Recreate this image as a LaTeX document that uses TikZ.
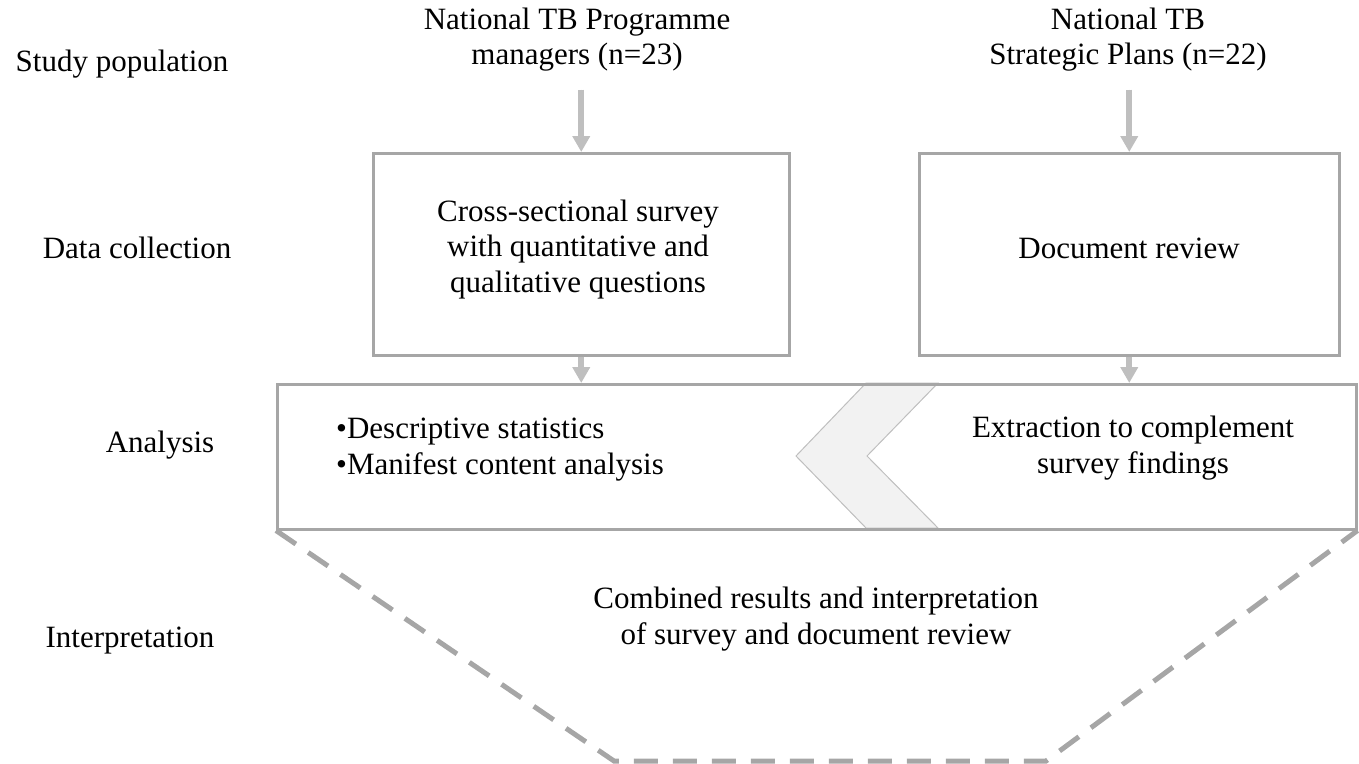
\documentclass[tikz,border=0pt]{standalone}
\usepackage{fontspec}
\setmainfont{Liberation Serif}
\usetikzlibrary{arrows.meta}
\definecolor{boxgray}{HTML}{A6A6A6}
\definecolor{arrgray}{HTML}{BFBFBF}
\definecolor{chevfill}{HTML}{F2F2F2}
\begin{document}
\begin{tikzpicture}[x=1pt,y=-1pt,
  txt/.style={font=\fontsize{31}{35.5}\selectfont, inner sep=0pt, align=center},
  box/.style={draw=boxgray, line width=2.5pt, inner sep=0pt, anchor=north west},
  arr/.style={draw=arrgray, line width=6pt, -{Triangle[width=17pt,length=16pt]}, fill=arrgray},
  dashline/.style={draw=boxgray, line width=5pt, dash pattern=on 24pt off 15pt}]
\useasboundingbox (0,0) rectangle (1359,763);
% left labels
\node[txt, anchor=base] (l1) at (122,71) {Study population};
\node[txt, anchor=base] (l2) at (137,258) {Data collection};
\node[txt, anchor=base] (l3) at (160,452) {Analysis};
\node[txt, anchor=base] (l4) at (130,647) {Interpretation};
% top texts
\node[txt] (pm) at (577,39.5) {National TB Programme\\managers (n=23)};
\node[txt] (sp) at (1128,39.5) {National TB\\Strategic Plans (n=22)};
% boxes
\node[box, minimum width=416pt, minimum height=202pt] (lbox) at (372,152) {};
\node[box, minimum width=420pt, minimum height=202pt] (rbox) at (918,152) {};
% chevron
\filldraw[fill=chevfill, draw=arrgray, line width=1pt]
  (866,383) -- (938,383) -- (867,456) -- (938,528) -- (866,528) -- (796,456) -- cycle;
\node[box, minimum width=1079pt, minimum height=145pt] (abox) at (276,383) {};
% box texts
\node[txt] (cs) at (578,249.5) {Cross-sectional survey\\with quantitative and\\qualitative questions};
\node[txt, anchor=base] (dr) at (1129,258) {Document review};
\node[txt, align=left, anchor=west] (ds) at (336,449.5) {•Descriptive statistics\\•Manifest content analysis};
\node[txt] (ex) at (1133,448) {Extraction to complement\\survey findings};
\node[txt] (cr) at (816,619) {Combined results and interpretation\\of survey and document review};
% arrows
\draw[arr] ([yshift=-18pt]pm.south -| lbox.north) -- (lbox.north);
\draw[arr] ([yshift=-18pt]sp.south -| rbox.north) -- (rbox.north);
\draw[arr] (lbox.south) -- (lbox.south |- abox.north);
\draw[arr] (rbox.south) -- (rbox.south |- abox.north);
% dashed funnel
\coordinate (bl) at (614,761);
\coordinate (br) at (1046,761);
\draw[dashline] (abox.south west) -- (bl) -- (br) -- (abox.south east);
\end{tikzpicture}
\end{document}
